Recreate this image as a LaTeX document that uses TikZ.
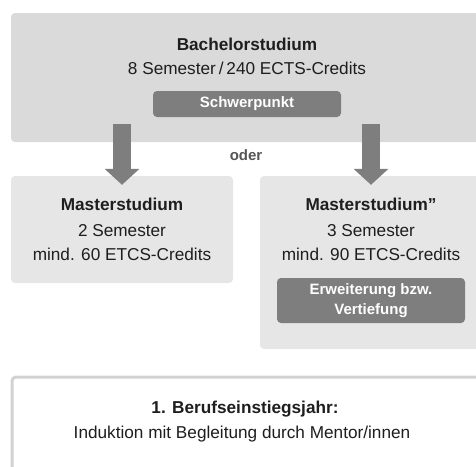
\documentclass[tikz,border=0pt]{standalone}
\usepackage{fontspec}
\setmainfont{Liberation Sans}
\usetikzlibrary{arrows.meta}
\definecolor{bachfill}{HTML}{DADADA}
\definecolor{masterfill}{HTML}{E6E6E6}
\definecolor{boxdark}{HTML}{7E7E7E}
\definecolor{framegray}{HTML}{D2D2D2}
\definecolor{textdark}{HTML}{1E1E1E}
\definecolor{odergray}{HTML}{555555}
\begin{document}
\begin{tikzpicture}[x=1pt,y=-1pt]
    % Define styles for panels and labels
    \tikzstyle{panel}=[rectangle, rounded corners=4pt, inner sep=0pt]
    \tikzstyle{tag}=[panel, fill=boxdark, text=white, font=\fontsize{15}{19.5}\selectfont\bfseries, align=center]
    \tikzstyle{head}=[inner sep=0pt, text=textdark, font=\fontsize{17.2}{24}\selectfont\bfseries, text height=12.5pt, text depth=3.5pt]
    \tikzstyle{info}=[inner sep=0pt, text=textdark, font=\fontsize{17.2}{24}\selectfont, text height=12.5pt, text depth=3.5pt]
    \tikzstyle{bigarrow}=[draw=boxdark, line width=18pt, -{Triangle[width=34pt, length=16pt]}]

    \useasboundingbox (0,0) rectangle (476,466);
    \clip (0,0) rectangle (476,466);

    % Bachelorstudium
    \node[panel, fill=bachfill, minimum width=472pt, minimum height=129pt] (bach) at (247,77.5) {};
    \node[head] (bachtitle) at ([yshift=31.5pt]bach.center) {Bachelorstudium};
    \node[info] (bachinfo) at ([yshift=7.5pt]bach.center) {8 Semester\,/\,240 ECTS-Credits};
    \node[tag, minimum width=188pt, minimum height=26pt] (focus) at ([yshift=-26.5pt]bach.center) {Schwerpunkt};

    % Masterstudium (2 Semester)
    \node[panel, fill=masterfill, minimum width=222pt, minimum height=107pt] (m1) at (122,229.5) {};
    \node[head] (m1title) at ([yshift=23.5pt]m1.center) {Masterstudium};
    \node[info] (m1sem) at ([yshift=-2.5pt]m1.center) {2 Semester};
    \node[info] (m1ects) at ([yshift=-26.5pt]m1.center) {mind. 60 ETCS-Credits};

    % Masterstudium (3 Semester)
    \node[panel, fill=masterfill, minimum width=222pt, minimum height=173pt] (m2) at (371,262.5) {};
    \node[head] (m2title) at ([yshift=56.5pt]m2.center) {Masterstudium''};
    \node[info] (m2sem) at ([yshift=30.5pt]m2.center) {3 Semester};
    \node[info] (m2ects) at ([yshift=6.5pt]m2.center) {mind. 90 ETCS-Credits};
    \node[tag, minimum width=188pt, minimum height=45pt] (extend) at ([yshift=-38pt]m2.center) {Erweiterung bzw.\\Vertiefung};

    % Pfeile
    \draw[bigarrow] ([yshift=18pt]bach.south -| m1.north) -- ([yshift=-9pt]m1.north);
    \draw[bigarrow] ([yshift=18pt]bach.south -| m2.north) -- ([yshift=-9pt]m2.north);
    \node[inner sep=0pt, text=odergray, font=\fontsize{15}{17}\selectfont\bfseries] (oder) at (246,155) {oder};

    % Berufseinstiegsjahr
    \node[panel, draw=framegray, line width=3pt, fill=white, minimum width=470pt, minimum height=150pt] (job) at (247,452) {};
    \node[head] (jobtitle) at (245,409) {1. Berufseinstiegsjahr:};
    \node[info] (jobinfo) at (242,434) {Induktion mit Begleitung durch Mentor/innen};
\end{tikzpicture}
\end{document}
